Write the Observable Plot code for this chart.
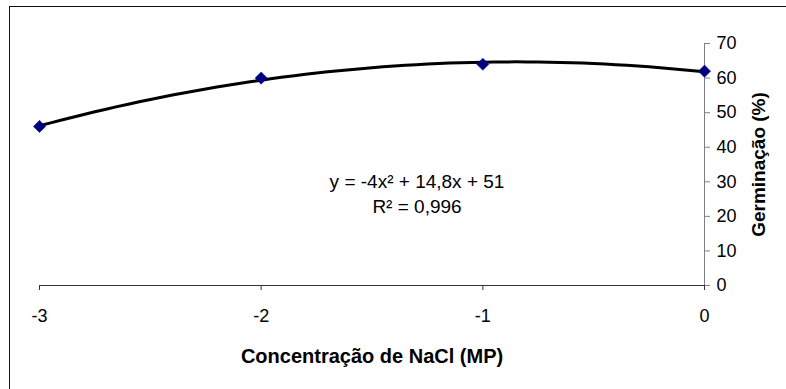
<!DOCTYPE html>
<html><head><meta charset="utf-8">
<script src="https://cdn.jsdelivr.net/npm/d3@7"></script>
<script src="https://cdn.jsdelivr.net/npm/@observablehq/plot@0.6"></script>
<style>
body{margin:0;background:#fff;}
#wrap{position:relative;width:786px;height:389px;overflow:hidden;background:#fff}
#frame{position:absolute;left:9px;top:6px;right:-10px;bottom:-10px;border-left:1px solid #111;border-top:1px solid #111;pointer-events:none}
</style></head><body><div id="wrap"><div id="frame"></div></div>
<script>
// Data
const concentration = [-3, -2, -1, 0];
const germination = [46, 60, 64, 62];
const xTicks = [-3, -2, -1, 0];
const yTicks = [0, 10, 20, 30, 40, 50, 60, 70];
const xTitle = "Concentração de NaCl (MP)";
const yTitle = "Germinação (%)";
const equationLines = ["y = -4x² + 14,8x + 51", "R² = 0,996"];

const points = concentration.map((c, i) => ({c, g: germination[i]}));

// Excel polynomial (order 2) trendline: least squares fit of the points,
// with the series index (1 = first point, concentration 0) as x.
function quadFit(xs, ys) {
  const S = k => d3.sum(xs, x => x ** k);
  const T = k => d3.sum(xs.map((x, i) => ys[i] * x ** k));
  const A = [[S(4), S(3), S(2), T(2)], [S(3), S(2), S(1), T(1)], [S(2), S(1), S(0), T(0)]];
  for (let i = 0; i < 3; i++) {
    for (let j = i + 1; j < 3; j++) {
      const f = A[j][i] / A[i][i];
      for (let k = i; k < 4; k++) A[j][k] -= f * A[i][k];
    }
  }
  const r = [0, 0, 0];
  for (let i = 2; i >= 0; i--) {
    let s = A[i][3];
    for (let k = i + 1; k < 3; k++) s -= A[i][k] * r[k];
    r[i] = s / A[i][i];
  }
  return r; // [a, b, c]
}
const order = d3.sort(points, d => -d.c);           // 0, -1, -2, -3
const [qa, qb, qc] = quadFit(order.map((d, i) => i + 1), order.map(d => d.g));
const trend = d3.range(0, 61).map(i => {
  const c = -3 + i * 3 / 60;
  const t = 1 - c;
  return {c, g: qa * t * t + qb * t + qc};
});

const font = "'Liberation Sans', Arial, sans-serif";

const chart = Plot.plot({
  width: 786,
  height: 389,
  marginLeft: 39,
  marginRight: 82,
  marginTop: 43,
  marginBottom: 104,
  style: {fontFamily: font, fontSize: "18px", color: "#000", background: "transparent"},
  x: {domain: [-3, 0]},
  y: {domain: [0, 70]},
  marks: [
    Plot.axisX({ticks: xTicks, tickFormat: d => String(d), tickSize: 5, tickPadding: 19, stroke: "#333", fontSize: 18, label: null}),
    Plot.axisY({anchor: "right", ticks: yTicks, tickFormat: d => String(d), tickSize: 5, tickPadding: 7, stroke: "#808080", fontSize: 18, label: null}),
    Plot.ruleY([0], {stroke: "#333", strokeWidth: 1}),
    Plot.ruleX([0], {stroke: "#808080", strokeWidth: 1}),
    Plot.line(trend, {x: "c", y: "g", stroke: "#000", strokeWidth: 3, curve: "linear"}),
    Plot.dot(points, {x: "c", y: "g", symbol: "diamond2", r: 5.5, fill: "#000080", stroke: "#000080", strokeWidth: 0.5}),
    Plot.text([equationLines.join("\n")], {frameAnchor: "middle", dx: 45, dy: 28, lineHeight: 1.32, fontSize: 19, fill: "#000", textAnchor: "middle", lineAnchor: "middle"}),
    Plot.text([xTitle], {frameAnchor: "bottom", dy: 71, fontSize: 20, fontWeight: "bold", fill: "#000", textAnchor: "middle", lineAnchor: "middle"}),
    Plot.text([yTitle], {frameAnchor: "right", dx: 54, rotate: -90, fontSize: 19, fontWeight: "bold", fill: "#000", textAnchor: "middle", lineAnchor: "middle"})
  ]
});
document.getElementById("wrap").prepend(chart);
</script></body></html>
